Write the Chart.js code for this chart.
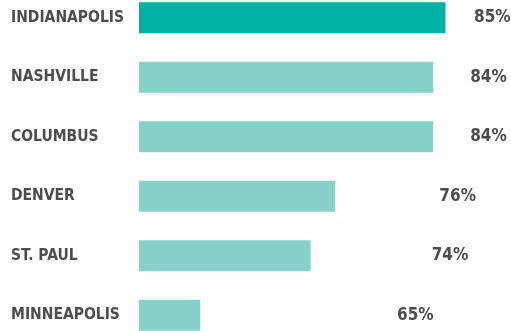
<!DOCTYPE html>
<html>
<head>
<meta charset="utf-8">
<script src="https://cdn.jsdelivr.net/npm/chart.js@4.4.1/dist/chart.umd.min.js"></script>
<style>
  html, body { margin: 0; padding: 0; background: #fff; overflow: hidden; }
  #wrap { position: relative; width: 511px; height: 331px; overflow: hidden; }
  #chart { position: absolute; left: 0; top: -12px; }
</style>
</head>
<body>
<div id="wrap"><canvas id="chart" width="511" height="357"></canvas></div>
<script>
const cities = ['INDIANAPOLIS', 'NASHVILLE', 'COLUMBUS', 'DENVER', 'ST. PAUL', 'MINNEAPOLIS'];
const shares = [85, 84, 84, 76, 74, 65];
const barColors = ['#00b2a3', '#88d1cb', '#88d1cb', '#88d1cb', '#88d1cb', '#88d1cb'];

const textColor = '#4d4d4d';
const family = '"DejaVu Sans Condensed", "DejaVu Sans", sans-serif';
const cityFont = { family, size: 15.5, weight: 'bold' };
const valueFont = { family, size: 17, weight: 'bold' };

// percentage labels sit on their own hidden scale to the right of the bars
const valueLabels = {
  id: 'valueLabels',
  afterDatasetsDraw(chart) {
    const { ctx } = chart;
    const xl = chart.scales.xl;
    const meta = chart.getDatasetMeta(0);
    ctx.save();
    ctx.font = `${valueFont.weight} ${valueFont.size}px ${valueFont.family}`;
    ctx.fillStyle = textColor;
    ctx.textAlign = 'center';
    ctx.textBaseline = 'middle';
    shares.forEach((v, i) => {
      ctx.fillText(v + '%', xl.getPixelForValue(v), meta.data[i].y);
    });
    ctx.restore();
  }
};

new Chart(document.getElementById('chart'), {
  type: 'bar',
  data: {
    labels: cities,
    datasets: [{
      data: shares,
      backgroundColor: barColors,
      borderWidth: 0,
      categoryPercentage: 1,
      barPercentage: 0.52
    }]
  },
  options: {
    indexAxis: 'y',
    responsive: false,
    animation: false,
    layout: { padding: { left: 11, right: 41, top: 0, bottom: 0 } },
    plugins: { legend: { display: false }, tooltip: { enabled: false } },
    scales: {
      x: { display: false, min: 60, max: 87 },
      xl: { axis: 'x', type: 'linear', display: false, min: -6.75, max: 79.2 },
      y: {
        grid: { display: false },
        border: { display: false },
        afterFit(scale) {
          scale.width = 128;
          scale.paddingTop = 0;
          scale.paddingBottom = 0;
        },
        ticks: {
          crossAlign: 'far',
          padding: 0,
          color: textColor,
          font: cityFont
        }
      }
    }
  },
  plugins: [valueLabels]
});
</script>
</body>
</html>
